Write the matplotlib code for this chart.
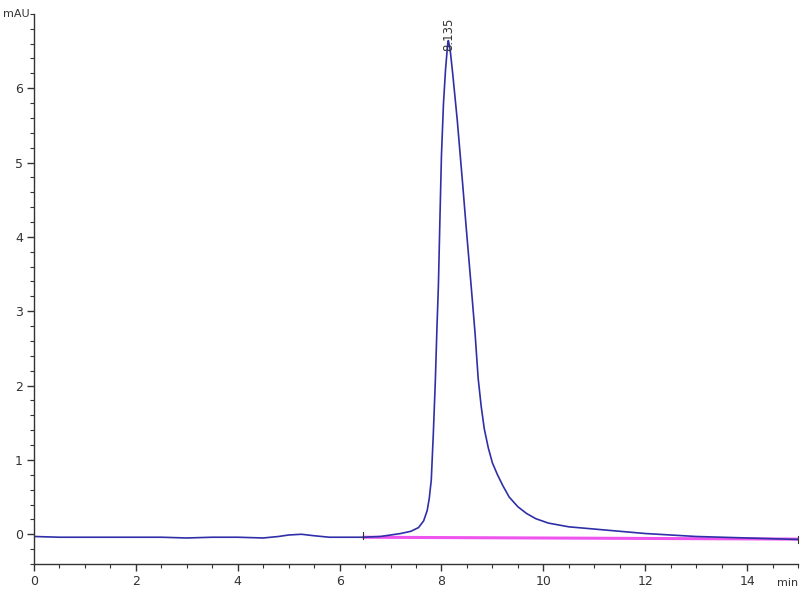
import matplotlib.pyplot as plt
from matplotlib.ticker import MultipleLocator, FixedLocator

# chromatogram trace (min, mAU)
time = [0, 0.5, 1, 1.5, 2, 2.5, 3, 3.5, 4, 4.5, 4.8, 5.0, 5.25, 5.5, 5.8,
        6.1, 6.45, 6.8, 7.0, 7.2, 7.4, 7.55, 7.65, 7.72, 7.76, 7.8, 7.84,
        7.88, 7.91, 7.94, 7.97, 8.0, 8.04, 8.08, 8.12, 8.135, 8.17, 8.22,
        8.31, 8.41, 8.49, 8.59, 8.66, 8.72, 8.78, 8.84, 8.92, 9.0, 9.1,
        9.2, 9.33, 9.5, 9.67, 9.85, 10.1, 10.5, 11, 11.5, 12, 12.5, 13,
        13.5, 14, 14.5, 15]
signal = [-0.03, -0.04, -0.04, -0.04, -0.04, -0.04, -0.05, -0.04, -0.04,
          -0.05, -0.03, -0.01, 0.00, -0.02, -0.04, -0.04, -0.04, -0.03,
          -0.01, 0.01, 0.04, 0.09, 0.18, 0.32, 0.48, 0.73, 1.35, 2.07, 2.75,
          3.35, 4.25, 5.1, 5.8, 6.25, 6.58, 6.64, 6.52, 6.2, 5.57, 4.76,
          4.09, 3.28, 2.7, 2.1, 1.72, 1.42, 1.16, 0.96, 0.8, 0.66, 0.5,
          0.37, 0.28, 0.21, 0.15, 0.1, 0.07, 0.04, 0.01, -0.01, -0.03,
          -0.04, -0.05, -0.06, -0.07]

# integration baseline
base_t = [6.45, 15]
base_y = [-0.04, -0.065]

peak_t = 8.135
peak_label = "8.135"
label_y = 6.5

fig = plt.figure(figsize=(8, 6), dpi=100)
ax = fig.add_axes([0.0425, 0.06, 0.955, 0.917])

ax.plot(base_t, base_y, color='#ee55ee', lw=2.2, solid_capstyle='butt')
ax.plot(time, signal, color='#2f2fa8', lw=1.2)
ax.plot([base_t[0], base_t[0]], [base_y[0] - 0.03, base_y[0] + 0.07],
        color='#333333', lw=0.8)
ax.plot([base_t[1], base_t[1]], [base_y[1] - 0.05, base_y[1] + 0.04],
        color='#333333', lw=0.8, clip_on=False)

ax.text(peak_t, label_y, peak_label, rotation=90, ha='center',
        va='bottom', fontsize=8.5, color='#333333')

ax.set_xlim(0, 15)
ax.set_ylim(-0.4, 7.0)
ax.xaxis.set_major_locator(MultipleLocator(2))
ax.xaxis.set_minor_locator(MultipleLocator(0.5))
ax.yaxis.set_major_locator(FixedLocator([0, 1, 2, 3, 4, 5, 6]))
ax.yaxis.set_minor_locator(MultipleLocator(0.2))

for side in ['top', 'right']:
    ax.spines[side].set_visible(False)
for side in ['left', 'bottom']:
    ax.spines[side].set_color('#333333')
    ax.spines[side].set_linewidth(1)

ax.tick_params(which='major', direction='out', length=5, width=1,
               color='#333333', labelsize=9, labelcolor='#333333', pad=3)
ax.tick_params(which='minor', direction='out', length=3, width=0.8,
               color='#333333')

fig.text(0.004, 0.977, 'mAU', fontsize=8, color='#333333', va='center')
fig.text(0.998, 0.028, 'min', fontsize=8, color='#333333', va='center',
         ha='right')

plt.savefig("out.png")
